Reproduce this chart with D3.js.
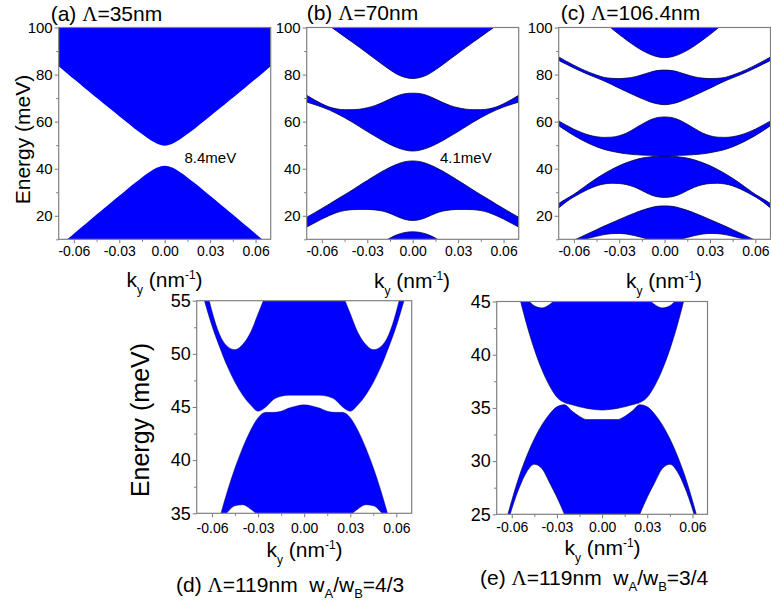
<!DOCTYPE html>
<html>
<head>
<meta charset="utf-8">
<script src="https://cdn.jsdelivr.net/npm/d3@7"></script>
<style>
body { margin: 0; background: #fff; }
svg text { font-family: "Liberation Sans", Arial, sans-serif; fill: #000; white-space: pre; }
</style>
</head>
<body>
<svg id="chart" width="771" height="609"></svg>
<script>
// ky samples (nm^-1), right half; the bands are symmetric in ky
const kHalf = [0, 0.005, 0.01, 0.015, 0.02, 0.025, 0.03, 0.035, 0.04, 0.045, 0.05, 0.055, 0.06, 0.065, 0.07];

// band edges in meV (null = beyond the plotted range)
// (a) period 35nm
const aCondLo = [49.8, 50.6, 52.4, 54.7, 57.1, 59.7, 62.3, 64.9, 67.5, 70.1, 72.8, 75.5, 78.1, 80.8, 83.5];
const aValHi  = [41.3, 40.5, 38.6, 36.3, 33.8, 31.2, 28.5, 25.9, 23.2, 20.5, 17.8, 15.1, 12.4, 9.7, 7.0];

// (b) period 70nm
const b1Lo = [78.3, 78.8, 80.0, 82.0, 84.3, 86.7, 89.1, 91.5, 93.8, 96.1, 98.4, 100.7, 103.0, 105.3, 107.6];
const b2Hi = [72.1, 71.9, 71.0, 69.6, 68.1, 66.8, 65.9, 65.3, 65.1, 65.1, 65.4, 66.2, 67.6, 69.3, 71.2];
const b2Lo = [47.5, 47.9, 48.9, 50.3, 52.0, 53.9, 55.8, 57.8, 59.8, 61.7, 63.4, 64.9, 66.2, 67.3, 68.3];
const b3Hi = [43.3, 43.0, 42.0, 40.6, 38.9, 37.0, 35.0, 33.0, 30.9, 28.9, 27.0, 25.0, 23.1, 21.2, 19.4];
const b3Lo = [18.0, 18.4, 19.6, 21.0, 22.0, 22.5, 22.7, 22.7, 22.6, 22.2, 21.4, 20.1, 18.6, 16.9, 15.2];
const b4Hi = [13.2, 12.9, 12.0, 10.5, 8.5, 6.3, 4.0, 1.7, 0, 0, 0, 0, 0, 0, 0];

// (c) period 106.4nm
const c1Lo = [87.2, 87.6, 88.7, 90.3, 92.3, 94.6, 97.0, 99.6, 102.2, 104.8, 107.4, 110.0, 112.6, 115.2, 117.8];
const c2Hi = [81.9, 81.7, 80.9, 79.9, 79.0, 78.5, 78.3, 78.4, 78.8, 79.8, 81.0, 82.4, 84.0, 85.7, 87.5];
const c2Lo = [67.2, 67.6, 68.5, 69.8, 71.2, 72.7, 74.2, 75.8, 77.3, 78.6, 79.9, 81.3, 82.8, 84.4, 86.0];
const c3Hi = [62.0, 61.7, 60.6, 58.9, 57.0, 55.2, 54.0, 53.4, 53.3, 53.6, 54.3, 55.4, 56.8, 58.5, 60.3];
const c3Lo = [45.6, 45.6, 45.7, 45.8, 46.0, 46.3, 46.8, 47.4, 48.2, 49.3, 50.7, 52.3, 54.1, 56.1, 58.3];
const c4Hi = [45.4, 45.3, 45.0, 44.5, 43.7, 42.6, 41.3, 39.7, 37.9, 35.9, 33.7, 31.4, 29.1, 27.2, 25.2];
const c4Lo = [27.8, 28.1, 29.1, 30.7, 32.2, 33.2, 33.7, 33.8, 33.5, 32.7, 31.4, 29.8, 28.0, 25.9, 23.3];
const c5Hi = [24.2, 24.0, 23.3, 22.3, 21.1, 19.8, 18.4, 17.0, 15.6, 14.1, 12.6, 11.1, 9.6, 8.0, 6.4];
const c5Lo = [9.0, 9.3, 9.9, 10.8, 11.6, 12.2, 12.5, 12.4, 12.0, 11.3, 10.5, 9.5, 8.3, 7.0, 5.6];

// (d) period 119nm, wA/wB = 4/3
const dUpHi = [62.0, 61.6, 60.6, 59.2, 57.6, 55.6, 53.8, 52.0, 50.9, 50.4, 50.7, 51.8, 54.0, 57.0, 60.5];
const dUpLo = [46.1, 46.1, 46.1, 46.0, 45.7, 45.0, 44.6, 45.2, 46.1, 47.3, 48.8, 50.6, 52.6, 55.0, 57.6];
const dLowHi = [45.2, 45.1, 44.9, 44.6, 44.5, 44.5, 44.0, 42.8, 41.2, 39.3, 37.1, 34.6, 31.8, 28.8, 25.6];
const dLowLo = [30.0, 30.3, 31.0, 32.0, 33.0, 34.0, 34.8, 35.4, 35.8, 35.7, 35.1, 34.0, 32.5, 30.5, 28.0];

// (e) period 119nm, wA/wB = 3/4
const eUpHi = [52.0, 51.6, 50.5, 49.2, 48.0, 46.6, 45.4, 44.7, 44.4, 44.6, 45.3, 46.5, 48.0, 50.0, 52.0];
const eUpLo = [34.8, 34.85, 34.95, 35.1, 35.3, 35.5, 36.0, 37.1, 38.6, 40.5, 42.8, 45.5, 48.5, 51.8, 55.3];
const eLowHi = [33.9, 33.9, 33.9, 34.2, 34.7, 35.3, 35.1, 34.4, 33.4, 32.1, 30.5, 28.6, 26.3, 23.7, 20.8];
const eLowLo = [20.0, 20.2, 20.8, 21.8, 23.2, 25.0, 26.6, 28.0, 29.3, 29.7, 29.0, 27.5, 25.5, 23.0, 20.0];

const kMajor = [-0.06, -0.03, 0, 0.03, 0.06];
const kMinor = [-0.045, -0.015, 0.015, 0.045];

const panels = [
    {left: 58.7, right: 270.7, top: 27.5, bottom: 239.3, ydom: [10, 100],
     ymajor: [20, 40, 60, 80, 100], yminor: [10, 30, 50, 70, 90], yfont: 15, xpad: 3, edge: 0,
     bands: [[aCondLo, null], [null, aValHi]]},
    {left: 306.7, right: 518.7, top: 27.5, bottom: 239.3, ydom: [10, 100],
     ymajor: [20, 40, 60, 80, 100], yminor: [10, 30, 50, 70, 90], yfont: 15, xpad: 3, edge: 0.8,
     bands: [[b1Lo, null], [b2Lo, b2Hi], [b3Lo, b3Hi], [null, b4Hi]]},
    {left: 558.7, right: 770.5, top: 27.5, bottom: 239.3, ydom: [10, 100],
     ymajor: [20, 40, 60, 80, 100], yminor: [10, 30, 50, 70, 90], yfont: 15, xpad: 3, edge: 0.8,
     bands: [[c1Lo, null], [c2Lo, c2Hi], [c3Lo, c3Hi], [c4Lo, c4Hi], [c5Lo, c5Hi]]},
    {left: 196.7, right: 411.7, top: 300.7, bottom: 513.3, ydom: [35, 55],
     ymajor: [35, 40, 45, 50, 55], yminor: [37.5, 42.5, 47.5, 52.5], yfont: 18, xpad: 5.5, edge: 0.4,
     bands: [[dUpLo, dUpHi], [dLowLo, dLowHi]]},
    {left: 496.7, right: 707.5, top: 301.5, bottom: 514.3, ydom: [25, 45],
     ymajor: [25, 30, 35, 40, 45], yminor: [27.5, 32.5, 37.5, 42.5], yfont: 18, xpad: 4, edge: 0.6,
     bands: [[eUpLo, eUpHi], [eLowLo, eLowHi]]}
];

const svg = d3.select('#chart');
const kFull = kHalf.slice(1).reverse().map(k => -k).concat(kHalf);
function mirror(arr) {
    return arr.slice(1).reverse().concat(arr);
}
const tickFmt = d => (Math.abs(d) < 1e-9 ? 0 : d).toFixed(2);

panels.forEach((p, i) => {
    const x = d3.scaleLinear().domain([-0.07, 0.07]).range([p.left, p.right]);
    const y = d3.scaleLinear().domain(p.ydom).range([p.bottom, p.top]);
    const below = p.ydom[0] - 10, above = p.ydom[1] + 10;

    svg.append('clipPath').attr('id', 'clip' + i)
        .append('rect').attr('x', p.left).attr('y', p.top)
        .attr('width', p.right - p.left).attr('height', p.bottom - p.top);

    const area = d3.area()
        .x(d => x(d.k)).y0(d => y(d.lo)).y1(d => y(d.hi))
        .curve(d3.curveMonotoneX);

    const g = svg.append('g').attr('clip-path', `url(#clip${i})`);
    p.bands.forEach(([lo, hi]) => {
        const loF = lo ? mirror(lo) : null;
        const hiF = hi ? mirror(hi) : null;
        const pts = kFull.map((k, j) => ({
            k: k,
            lo: loF ? loF[j] : below,
            hi: hiF ? hiF[j] : above
        }));
        g.append('path').datum(pts)
            .attr('d', area)
            .attr('fill', '#0000ff')
            .attr('stroke', p.edge ? '#000040' : 'none')
            .attr('stroke-width', p.edge);
    });

    // axes
    const xa = svg.append('g').attr('transform', `translate(0,${p.bottom})`)
        .call(d3.axisBottom(x).tickValues(kMajor).tickFormat(tickFmt).tickSize(4).tickPadding(p.xpad));
    svg.append('g').attr('transform', `translate(0,${p.bottom})`)
        .call(d3.axisBottom(x).tickValues(kMinor).tickFormat('').tickSize(2.5));
    const ya = svg.append('g').attr('transform', `translate(${p.left},0)`)
        .call(d3.axisLeft(y).tickValues(p.ymajor).tickSize(4).tickPadding(2));
    svg.append('g').attr('transform', `translate(${p.left},0)`)
        .call(d3.axisLeft(y).tickValues(p.yminor).tickFormat('').tickSize(2.5));

    svg.selectAll('.domain').remove();
    svg.selectAll('.tick line').attr('stroke', '#777');
    xa.selectAll('text').style('font-size', '14px');
    ya.selectAll('text').style('font-size', p.yfont + 'px');

    svg.append('rect')
        .attr('x', p.left).attr('y', p.top)
        .attr('width', p.right - p.left).attr('height', p.bottom - p.top)
        .attr('fill', 'none').attr('stroke', '#808080').attr('stroke-width', 1.2);
});

// x axis labels: k_y (nm^-1)
function kLabel(cx, base) {
    const t = svg.append('text').attr('x', cx).attr('y', base)
        .attr('text-anchor', 'middle').style('font-size', '21px');
    t.append('tspan').text('k');
    t.append('tspan').attr('dy', 7).style('font-size', '12px').text('y');
    t.append('tspan').attr('dy', -7).text(' (nm');
    t.append('tspan').attr('dy', -8).style('font-size', '12px').text('-1');
    t.append('tspan').attr('dy', 8).text(')');
}
kLabel(164.5, 286.5);
kLabel(412, 288);
kLabel(664, 288);
kLabel(304.5, 556.5);
kLabel(602.5, 554.5);

// y axis labels
svg.append('text').attr('transform', 'translate(29.5,139.5) rotate(-90)')
    .attr('text-anchor', 'middle').style('font-size', '21px').text('Energy (meV)');
svg.append('text').attr('transform', 'translate(149,420) rotate(-90)')
    .attr('text-anchor', 'middle').style('font-size', '25px').text('Energy (meV)');

// panel titles
function title(x0, base, letter, rest, ratio) {
    const t = svg.append('text').attr('x', x0).attr('y', base).style('font-size', '21px');
    t.append('tspan').text(`(${letter}) `);
    t.append('tspan').style('font-family', '"Liberation Serif", serif').text('\u039b');
    t.append('tspan').text('=' + rest);
    if (ratio) {
        t.append('tspan').text('  w');
        t.append('tspan').attr('dy', 6).style('font-size', '13px').text('A');
        t.append('tspan').attr('dy', -6).text('/w');
        t.append('tspan').attr('dy', 6).style('font-size', '13px').text('B');
        t.append('tspan').attr('dy', -6).text('=' + ratio);
    }
}
title(50.7, 21, 'a', '35nm');
title(306.7, 20, 'b', '70nm');
title(560.7, 20, 'c', '106.4nm');
title(176, 591.5, 'd', '119nm', '4/3');
title(480, 585, 'e', '119nm', '3/4');

// gap annotations
svg.append('text').attr('x', 184.5).attr('y', 163).style('font-size', '15px').text('8.4meV');
svg.append('text').attr('x', 440).attr('y', 163).style('font-size', '15px').text('4.1meV');
</script>
</body>
</html>
